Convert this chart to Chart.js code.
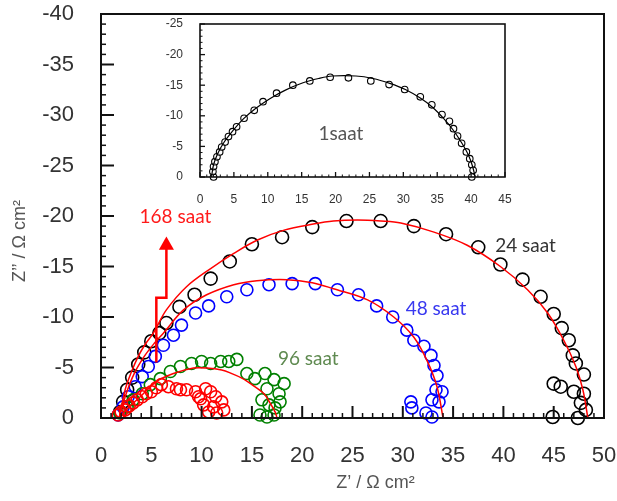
<!DOCTYPE html>
<html><head><meta charset="utf-8">
<script src="https://cdn.jsdelivr.net/npm/chart.js@4.4.0/dist/chart.umd.min.js"></script>
<style>
html,body{margin:0;padding:0;background:#fff;}
#wrap{position:relative;width:617px;height:501px;overflow:hidden;}
#main{position:absolute;left:0;top:0;}
#inset{position:absolute;left:150px;top:10px;}
</style></head><body>
<div id="wrap"><canvas id="main" width="617" height="501"></canvas><canvas id="inset" width="365" height="200"></canvas></div>
<script>
// ---- Main chart data (Z' and Z'' in ohm cm2) ----
const xTicksMain = [0, 5, 10, 15, 20, 25, 30, 35, 40, 45, 50];
const yTicksMain = [-40, -35, -30, -25, -20, -15, -10, -5, 0];

const x24 = [1.9, 2.2, 2.6, 3.1, 3.7, 4.3, 5.0, 5.8, 6.5, 7.8, 9.3, 10.9, 12.8, 15.0, 18.0, 21.0, 24.4, 27.8, 31.1, 34.3, 37.5, 39.7, 41.9, 43.7, 45.0, 45.8, 46.5, 46.9, 47.2, 48.0, 45.0, 45.7, 47.0, 48.0, 47.7, 48.2, 44.9, 47.4];
const y24 = [-0.6, -1.6, -2.8, -4.0, -5.3, -6.5, -7.6, -8.4, -9.4, -11.0, -12.2, -13.8, -15.5, -17.2, -17.9, -18.9, -19.5, -19.5, -19.0, -18.2, -16.9, -15.2, -13.7, -12.0, -10.3, -8.9, -7.7, -6.2, -5.4, -4.3, -3.4, -3.1, -2.6, -2.4, -1.5, -0.8, -0.1, 0];

const x48 = [1.7, 2.2, 2.7, 3.4, 4.1, 4.7, 5.4, 6.2, 7.2, 8.0, 9.4, 10.7, 12.5, 14.5, 16.7, 19.0, 21.3, 23.5, 25.6, 27.4, 29.0, 30.4, 31.1, 32.1, 32.8, 33.1, 33.4, 33.9, 33.3, 33.6, 32.9, 32.3, 32.9, 30.9, 30.8];
const y48 = [-0.3, -1.1, -2.1, -3.1, -4.1, -5.1, -6.1, -7.2, -8.2, -9.2, -10.4, -11.1, -12.0, -12.7, -13.2, -13.3, -13.3, -12.7, -12.2, -11.1, -10.0, -8.7, -7.7, -7.1, -6.2, -5.2, -4.2, -2.6, -2.8, -1.6, -1.8, -0.5, -0.1, -1.0, -1.6];

const x96 = [1.9, 2.6, 3.2, 4.1, 4.9, 5.9, 6.9, 7.9, 9.0, 10.0, 10.9, 11.9, 12.7, 13.5, 14.5, 15.3, 16.3, 17.2, 18.2, 16.5, 17.7, 17.8, 17.3, 16.7, 16.0, 15.8, 16.5, 17.2];
const y96 = [-0.5, -1.1, -1.8, -2.4, -3.3, -3.9, -4.6, -5.1, -5.4, -5.6, -5.4, -5.6, -5.6, -5.8, -4.4, -3.9, -4.4, -3.8, -3.4, -2.9, -2.4, -1.6, -1.0, -1.3, -1.8, -0.3, -0.1, -0.3];

const x168 = [1.7, 2.0, 2.4, 2.8, 3.2, 3.6, 4.1, 4.5, 5.0, 5.5, 6.0, 6.7, 7.5, 7.9, 8.5, 9.4, 10.4, 10.9, 9.7, 9.9, 11.4, 12.0, 10.2, 11.2, 12.2, 10.7, 11.5];
const y168 = [-0.3, -0.6, -0.8, -1.2, -1.5, -1.8, -2.1, -2.4, -2.6, -3.0, -3.3, -3.1, -2.9, -2.8, -2.8, -2.6, -2.9, -2.6, -2.1, -1.9, -2.1, -1.6, -1.3, -1.1, -0.8, -0.6, -0.5];

// fitted curves
const fit24x = [1.8, 2.4, 3.0, 3.7, 4.4, 5.2, 6.5, 8.5, 10.9, 13.2, 15.5, 18.2, 21.1, 23.1, 25.5, 27.8, 29.8, 33.1, 36.4, 39.7, 42.4, 44.4, 46.0, 47.2, 47.9, 48.4];
const fit24y = [0, -2.8, -4.5, -6.1, -7.3, -8.4, -10.7, -13.0, -14.8, -16.3, -17.6, -18.6, -19.2, -19.5, -19.6, -19.5, -19.3, -18.4, -17.1, -15.0, -12.7, -10.4, -7.7, -5.1, -2.8, 0];
const fit48x = [1.8, 2.5, 3.3, 4.3, 5.3, 6.2, 8.2, 10.5, 13.2, 15.5, 18.5, 21.0, 23.1, 26.5, 29.1, 31.1, 32.4, 33.4, 34.0];
const fit48y = [0, -2.4, -4.4, -6.1, -7.4, -8.4, -10.7, -12.2, -13.2, -13.6, -13.7, -13.4, -12.8, -11.7, -10.0, -8.0, -5.7, -3.1, 0];
const fit96x = [1.8, 2.6, 3.9, 5.5, 7.2, 9.2, 10.5, 12.0, 13.0, 14.0, 15.0, 16.2, 16.8, 17.3, 17.5];
const fit96y = [0, -0.9, -2.1, -3.6, -4.4, -4.95, -4.95, -4.75, -4.4, -3.95, -3.3, -2.4, -1.5, -0.6, 0];

// arrow pointing to 168 saat label
const arrowX = [5.5, 5.5, 6.5, 6.5];
const arrowY = [-5.5, -11.9, -11.9, -17.1];

// ---- Inset (1 saat) ----
const xTicksInset = [0, 5, 10, 15, 20, 25, 30, 35, 40, 45];
const yTicksInset = [-25, -20, -15, -10, -5, 0];
const x1 = [2.0, 1.9, 2.0, 2.2, 2.5, 2.9, 3.2, 3.7, 4.2, 4.8, 5.4, 6.5, 8.0, 9.3, 11.3, 13.7, 16.2, 19.2, 21.9, 25.2, 27.9, 30.2, 32.5, 34.2, 35.7, 36.8, 37.4, 38.0, 38.6, 39.3, 39.8, 40.1, 40.3, 40.1];
const y1 = [0, -0.9, -1.7, -2.5, -3.3, -4.1, -4.9, -5.7, -6.6, -7.4, -8.2, -9.6, -10.9, -12.3, -13.7, -15.0, -15.7, -16.3, -16.2, -15.7, -15.1, -14.3, -13.1, -11.8, -10.2, -9.1, -7.9, -6.7, -5.5, -4.1, -3.0, -2.0, -1.1, 0];
const fit1x = [1.7, 2.0, 2.6, 3.5, 4.8, 6.4, 8.2, 10.3, 12.6, 15.2, 17.5, 19.5, 23.0, 25.5, 28.0, 30.3, 32.5, 34.3, 36.0, 37.4, 38.6, 39.6, 40.2, 40.6];
const fit1y = [0, -2.0, -3.8, -5.6, -7.5, -9.5, -11.2, -12.8, -14.2, -15.4, -16.1, -16.5, -16.5, -16.1, -15.3, -14.3, -12.9, -11.4, -9.5, -7.6, -5.6, -3.6, -1.8, 0];

const pts = (xs, ys) => xs.map((v, i) => ({x: v, y: ys[i]}));
const TICKFONT = "'Liberation Sans', Arial, sans-serif";
const LABELFONT = "Lato, 'Open Sans', sans-serif";

// plugin: box + inward major/minor ticks
const framePlugin = {
  id: 'frame',
  afterDatasetsDraw(chart, args, o) {
    const {ctx, chartArea: a, scales: {x, y}} = chart;
    ctx.save();
    ctx.strokeStyle = o.color;
    const isMaj = v => Math.abs(v / o.major - Math.round(v / o.major)) < 1e-6;
    for (let v = x.min; v <= x.max + 1e-9; v += o.minor) {
      const p = x.getPixelForValue(v), m = isMaj(v);
      ctx.lineWidth = m ? o.majW : o.minW;
      ctx.beginPath(); ctx.moveTo(p, a.bottom); ctx.lineTo(p, a.bottom - (m ? o.majLenX : o.minLen)); ctx.stroke();
    }
    for (let v = y.min; v <= y.max + 1e-9; v += o.minor) {
      const p = y.getPixelForValue(v), m = isMaj(v);
      ctx.lineWidth = m ? o.majW : o.minW;
      ctx.beginPath(); ctx.moveTo(a.left, p); ctx.lineTo(a.left + (m ? o.majLenY : o.minLen), p); ctx.stroke();
    }
    ctx.lineWidth = o.boxW;
    ctx.strokeRect(a.left, a.top, a.right - a.left, a.bottom - a.top);
    ctx.restore();
  }
};

// plugin: text labels anchored in data coordinates + axis titles
const textPlugin = {
  id: 'texts',
  afterDraw(chart, args, o) {
    const {ctx, chartArea: a, scales: {x, y}} = chart;
    ctx.save();
    ctx.textAlign = 'center'; ctx.textBaseline = 'middle';
    (o.labels || []).forEach(l => {
      ctx.fillStyle = l.color; ctx.font = l.font;
      ctx.fillText(l.text, x.getPixelForValue(l.x), y.getPixelForValue(l.y));
    });
    if (o.xTitle) {
      ctx.fillStyle = o.xTitle.color; ctx.font = o.xTitle.font;
      ctx.fillText(o.xTitle.text, (a.left + a.right) / 2 + o.xTitle.dx, chart.height - o.xTitle.fromBottom);
    }
    if (o.yTitle) {
      ctx.translate(o.yTitle.fromLeft, (a.top + a.bottom) / 2 + o.yTitle.dy);
      ctx.rotate(-Math.PI / 2);
      ctx.fillStyle = o.yTitle.color; ctx.font = o.yTitle.font;
      ctx.fillText(o.yTitle.text, 0, 0);
    }
    ctx.restore();
  }
};

function zeroPad(s) { s.paddingLeft = 0; s.paddingRight = 0; s.paddingTop = 0; s.paddingBottom = 0; }

function markers(label, xs, ys, color, radius, order) {
  return {label, data: pts(xs, ys), showLine: false, pointStyle: 'circle', pointRadius: radius,
    pointBorderWidth: 1.6, borderColor: color, pointBorderColor: color, backgroundColor: 'rgba(0,0,0,0)',
    pointBackgroundColor: 'rgba(0,0,0,0)', order, clip: false};
}
function fitLine(label, xs, ys, color, width) {
  return {label, data: pts(xs, ys), showLine: true, borderColor: color, borderWidth: width,
    pointRadius: 0, tension: 0.35, fill: false, order: 0, clip: false};
}

new Chart(document.getElementById('main'), {
  type: 'scatter',
  data: {datasets: [
    markers('24 saat', x24, y24, '#000000', 6.5, 4),
    markers('48 saat', x48, y48, '#0000ff', 6, 3),
    markers('96 saat', x96, y96, '#008000', 6, 2),
    markers('168 saat', x168, y168, '#ff0000', 6, 1),
    fitLine('fit 24', fit24x, fit24y, '#ff0000', 1.5),
    fitLine('fit 48', fit48x, fit48y, '#ff0000', 1.5),
    fitLine('fit 96', fit96x, fit96y, '#ff0000', 1.5),
    {label: 'arrow', data: pts(arrowX, arrowY), showLine: true, borderColor: '#ff0000', borderWidth: 2.5,
     pointStyle: 'triangle', pointRadius: [0, 0, 0, 8.7], pointBackgroundColor: '#ff0000',
     pointBorderColor: '#ff0000', pointBorderWidth: 0, tension: 0, order: 0, clip: false}
  ]},
  options: {
    responsive: false, animation: false, events: [],
    layout: {padding: {top: 14, right: 13, left: 0, bottom: 0}},
    plugins: {
      legend: {display: false}, tooltip: {enabled: false},
      frame: {color: '#111', major: 5, minor: 1, majLenX: 12, majLenY: 13, minLen: 5, majW: 2, minW: 1.5, boxW: 2},
      texts: {
        labels: [
          {text: '168 saat', x: 7.4, y: -19.9, color: '#ff1a1a', font: "19px " + LABELFONT},
          {text: '24 saat', x: 42.2, y: -17.0, color: '#333333', font: "19px " + LABELFONT},
          {text: '48 saat', x: 33.3, y: -10.8, color: '#3838f0', font: "19px " + LABELFONT},
          {text: '96 saat', x: 20.6, y: -5.9, color: '#5f8a50', font: "19px " + LABELFONT}
        ],
        xTitle: {text: 'Z’ / Ω cm²', color: '#555', font: "18px " + TICKFONT, dx: 23, fromBottom: 18},
        yTitle: {text: 'Z’’ / Ω cm²', color: '#555', font: "18px " + TICKFONT, dy: 25, fromLeft: 20}
      }
    },
    scales: {
      x: {type: 'linear', min: 0, max: 50,
        afterBuildTicks: s => { s.ticks = xTicksMain.map(v => ({value: v})); },
        afterFit: s => { s.height = 83; zeroPad(s); },
        grid: {display: false}, border: {display: false},
        ticks: {font: {size: 22, family: TICKFONT}, color: '#333', padding: 17, maxRotation: 0}},
      y: {type: 'linear', min: -40, max: 0, reverse: true,
        afterBuildTicks: s => { s.ticks = yTicksMain.map(v => ({value: v})); },
        afterFit: s => { s.width = 101; zeroPad(s); },
        grid: {display: false}, border: {display: false},
        ticks: {font: {size: 22, family: TICKFONT}, color: '#333', padding: 19}}
    }
  },
  plugins: [framePlugin, textPlugin]
});

new Chart(document.getElementById('inset'), {
  type: 'scatter',
  data: {datasets: [
    {label: '1 saat', data: pts(x1, y1), showLine: false, pointStyle: 'circle', pointRadius: 3.3,
     pointBorderWidth: 1.1, pointBorderColor: '#000', pointBackgroundColor: 'rgba(255,255,255,0.6)', order: 1, clip: false},
    {label: 'fit 1', data: pts(fit1x, fit1y), showLine: true, borderColor: '#000', borderWidth: 1.2,
     pointRadius: 0, tension: 0.35, order: 0, clip: false}
  ]},
  options: {
    responsive: false, animation: false, events: [],
    layout: {padding: {top: 14, right: 10, left: 0, bottom: 0}},
    plugins: {
      legend: {display: false}, tooltip: {enabled: false},
      frame: {color: '#111', major: 5, minor: 1, majLenX: 5, majLenY: 5, minLen: 2.5, majW: 1.3, minW: 1, boxW: 1.6},
      texts: {labels: [{text: '1saat', x: 20.8, y: -7.0, color: '#555', font: "19px " + LABELFONT}]}
    },
    scales: {
      x: {type: 'linear', min: 0, max: 45,
        afterBuildTicks: s => { s.ticks = xTicksInset.map(v => ({value: v})); },
        afterFit: s => { s.height = 33; zeroPad(s); },
        grid: {display: false}, border: {display: false},
        ticks: {font: {size: 12, family: TICKFONT}, color: '#333', padding: 7, maxRotation: 0}},
      y: {type: 'linear', min: -25, max: 0, reverse: true,
        afterBuildTicks: s => { s.ticks = yTicksInset.map(v => ({value: v})); },
        afterFit: s => { s.width = 50; zeroPad(s); },
        grid: {display: false}, border: {display: false},
        ticks: {font: {size: 12, family: TICKFONT}, color: '#333', padding: 9}}
    }
  },
  plugins: [framePlugin, textPlugin]
});
</script>
</body></html>
